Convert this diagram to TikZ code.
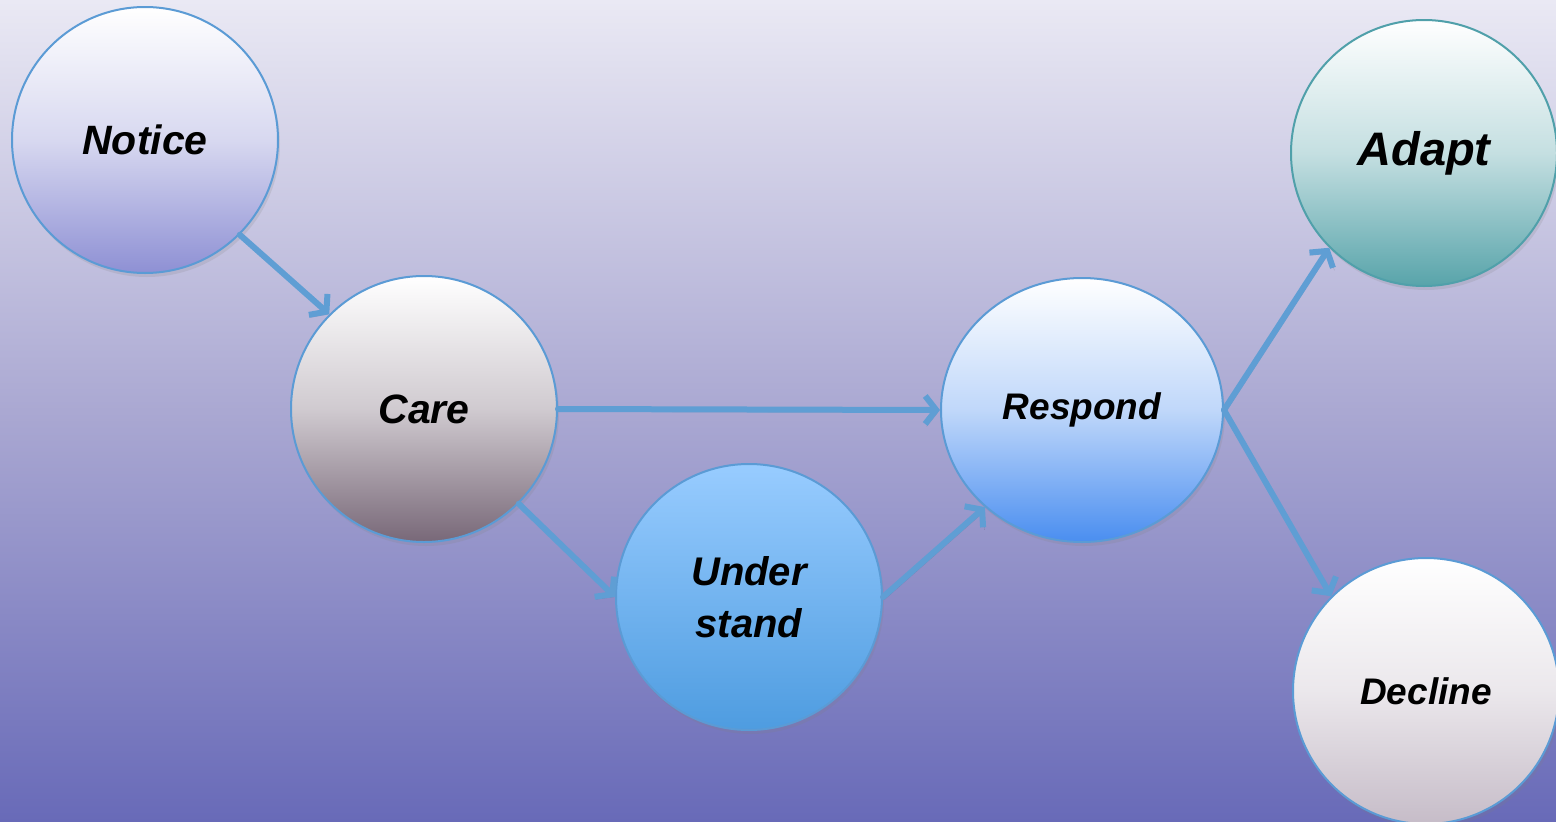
\documentclass[tikz,border=0pt]{standalone}
\usepackage{fontspec}
\setmainfont{Liberation Sans}
\usetikzlibrary{shapes.geometric,arrows.meta,shadows}
\definecolor{bgtop}{RGB}{234,233,244}
\definecolor{bgmid}{RGB}{170,168,210}
\definecolor{bgbot}{RGB}{104,106,184}
\definecolor{edge}{RGB}{91,155,213}
\definecolor{tealedge}{RGB}{80,160,170}
\definecolor{arrowc}{RGB}{95,158,212}
\definecolor{noticebot}{RGB}{142,144,212}
\definecolor{carebot}{RGB}{120,104,120}
\definecolor{undtop}{RGB}{152,204,255}
\definecolor{undbot}{RGB}{78,156,224}
\definecolor{respbot}{RGB}{74,142,240}
\definecolor{adaptbot}{RGB}{88,164,170}
\definecolor{declbot}{RGB}{198,188,200}
\begin{document}
\begin{tikzpicture}[x=1pt,y=-1pt,
  stage/.style={circle, minimum size=266pt, inner sep=0pt, draw=edge, line width=2pt,
    align=center, text=black,
    drop shadow={opacity=0.18, shadow xshift=2pt, shadow yshift=-4pt}},
  lbl/.style={font=\fontsize{#1}{#1}\selectfont\bfseries\itshape},
  grad/.style={top color=white, bottom color=#1, middle color=#1!35!white},
  flow/.style={draw=arrowc, line width=6pt, line cap=round,
    -{Straight Barb[length=11pt,width=28pt]},
    preaction={draw=black, opacity=0.15, transform canvas={shift={(1.5pt,-2.5pt)}}}}]
\clip (0,0) rectangle (1556,822);
\shade[top color=bgtop, bottom color=bgbot, middle color=bgmid] (0,0) rectangle (1556,822);
\node[stage, lbl=41, grad=noticebot] (notice) at (145,140) {Notice};
\node[stage, lbl=41, grad=carebot] (care) at (424,409) {Care};
\node[stage, top color=undtop, bottom color=undbot, font=\fontsize{40}{52}\selectfont\bfseries\itshape] (under) at (749,597) {Under\\stand};
\node[stage, ellipse, minimum width=282pt, minimum height=264pt, lbl=37, grad=respbot] (respond) at (1082,410) {Respond};
\node[stage, lbl=47, draw=tealedge, grad=adaptbot] (adapt) at (1424,153) {Adapt};
\node[stage, lbl=37, grad=declbot] (decline) at (1426,691) {Decline};
\draw[flow] (notice.-45) -- (care.135);
\draw[flow] (care.east) -- (respond.west);
\draw[flow] (care.-45) -- (under.west);
\draw[flow] (under.east) -- (respond.-135);
\draw[flow] (respond.east) -- (adapt.-135);
\draw[flow] (respond.east) -- (decline.135);
\end{tikzpicture}
\end{document}
